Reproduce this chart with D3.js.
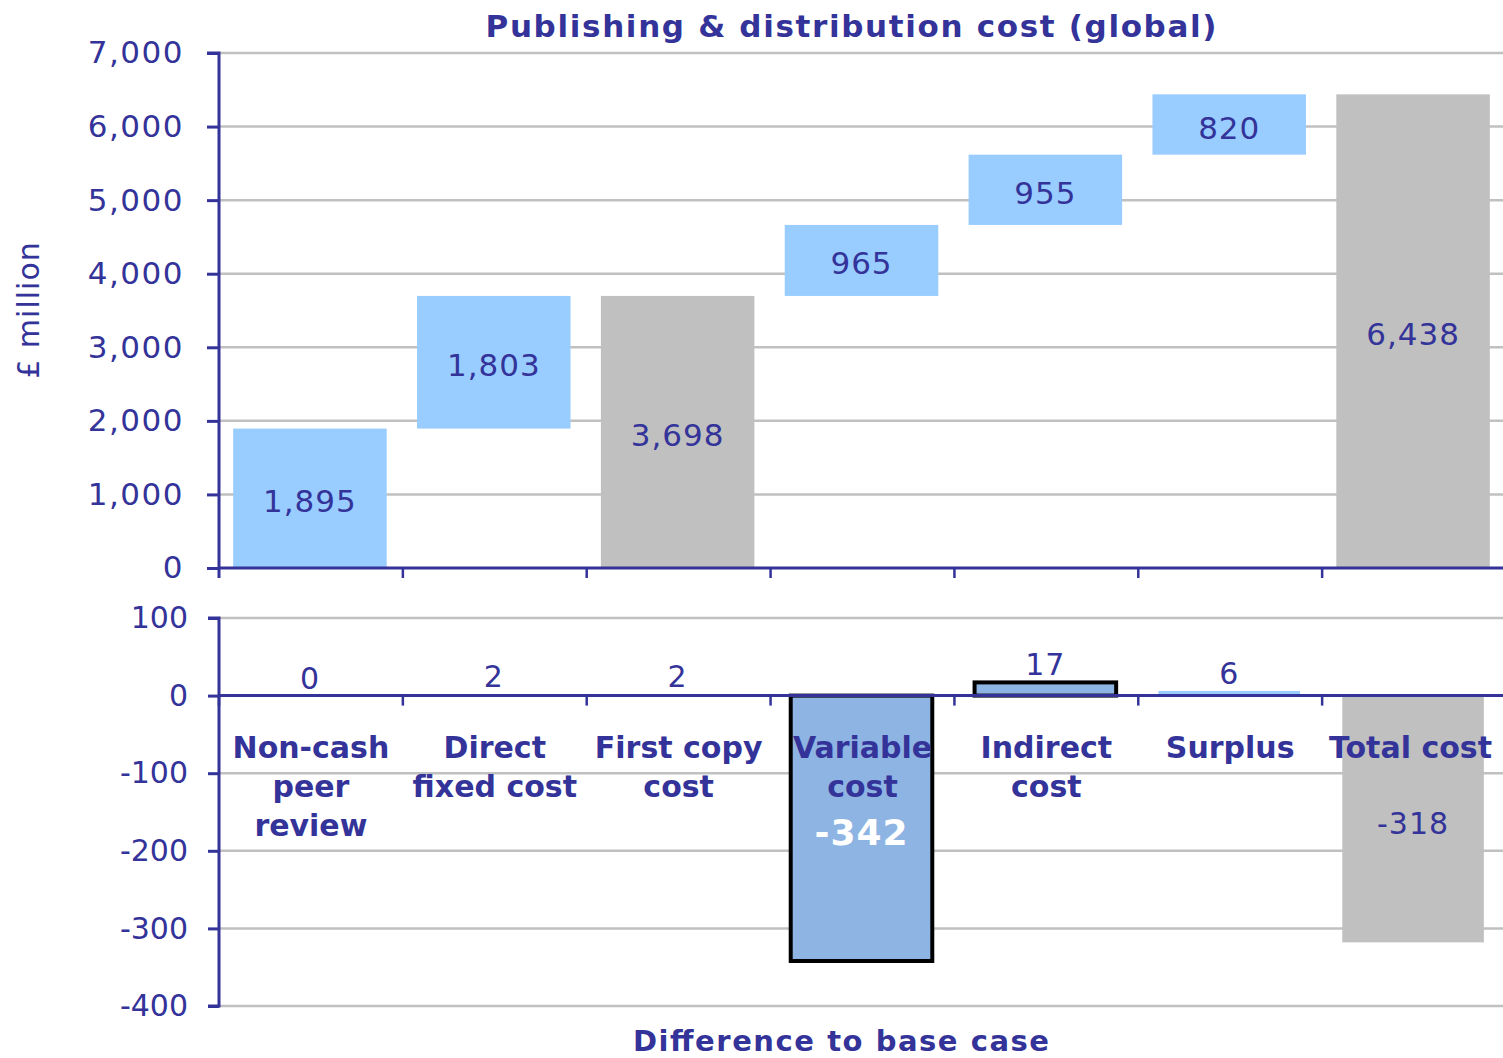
<!DOCTYPE html>
<html>
<head>
<meta charset="utf-8">
<script src="https://cdn.jsdelivr.net/npm/d3@7"></script>
<style>
  html, body { margin: 0; padding: 0; background: #fff; }
  svg { display: block; font-family: "DejaVu Sans", Verdana, sans-serif; }
</style>
</head>
<body>
<div id="chart"></div>
<script>
// chart data
const categories = ['Non-cash peer review', 'Direct fixed cost', 'First copy cost', 'Variable cost', 'Indirect cost', 'Surplus', 'Total cost'];
const categoryLines = [['Non-cash', 'peer', 'review'], ['Direct', 'fixed cost'], ['First copy', 'cost'], ['Variable', 'cost'], ['Indirect', 'cost'], ['Surplus'], ['Total cost']];
const costValues = [1895, 1803, 3698, 965, 955, 820, 6438];
const isTotal = [false, false, true, false, false, false, true];
const diffValues = [0, 2, 2, -342, 17, 6, -318];
const diffHighlight = [false, false, false, true, true, false, false];
const topTicks = [0, 1000, 2000, 3000, 4000, 5000, 6000, 7000];
const bottomTicks = [-400, -300, -200, -100, 0, 100];

const W = 1503, H = 1058;
const NAVY = '#333399', LIGHT = '#99CCFF', GREY = '#C0C0C0', HILITE = '#8EB4E3';

const fmt = d3.formatLocale({ decimal: '.', thousands: ',', grouping: [3], currency: ['', ''], minus: '-' }).format(',');

const svg = d3.select('#chart').append('svg').attr('width', W).attr('height', H);

const x = d3.scaleBand().domain(categories).range([219, 1506]).padding(0);
const bw = x.bandwidth();

const yTop = d3.scaleLinear().domain([0, 7000]).range([568, 53]);
const yBot = d3.scaleLinear().domain([-400, 100]).range([1006, 618]);

// waterfall segments
let running = 0;
const segments = categories.map((c, i) => {
  let start, end;
  if (isTotal[i]) { start = 0; end = costValues[i]; running = end; }
  else { start = running; end = running + costValues[i]; running = end; }
  return { c, start, end, value: costValues[i], total: isTotal[i] };
});

// title
svg.append('text')
  .attr('x', 851).attr('y', 37)
  .attr('text-anchor', 'middle')
  .attr('textLength', 731).attr('lengthAdjust', 'spacing')
  .attr('font-size', 31).attr('font-weight', 'bold').attr('fill', NAVY)
  .text('Publishing  &  distribution  cost  (global)');

// ---- top panel ----
const topG = svg.append('g');

topG.selectAll('line.grid')
  .data(topTicks.filter(t => t !== 0))
  .join('line')
  .attr('class', 'grid')
  .attr('x1', 219).attr('x2', W)
  .attr('y1', d => yTop(d)).attr('y2', d => yTop(d))
  .attr('stroke', GREY).attr('stroke-width', 2.5);

const topBarW = bw * 0.835;
topG.selectAll('rect.bar')
  .data(segments)
  .join('rect')
  .attr('class', 'bar')
  .attr('x', d => x(d.c) + (bw - topBarW) / 2 - 1)
  .attr('width', topBarW)
  .attr('y', d => yTop(d.end))
  .attr('height', d => yTop(d.start) - yTop(d.end))
  .attr('fill', d => d.total ? GREY : LIGHT);

topG.selectAll('text.val')
  .data(segments)
  .join('text')
  .attr('class', 'val')
  .attr('x', d => x(d.c) + bw / 2 - 1)
  .attr('y', d => (yTop(d.start) + yTop(d.end)) / 2 + 14)
  .attr('text-anchor', 'middle')
  .attr('font-size', 31).attr('letter-spacing', 1).attr('fill', NAVY)
  .text(d => fmt(d.value));

const topAxis = d3.axisLeft(yTop).tickValues(topTicks).tickSize(12).tickPadding(23).tickFormat(fmt);
topG.append('g')
  .attr('transform', 'translate(219,0)')
  .call(topAxis)
  .call(g => g.select('.domain').attr('stroke', NAVY).attr('stroke-width', 3).attr('d', 'M-12,53H0V578'))
  .call(g => g.selectAll('.tick line').attr('stroke', NAVY).attr('stroke-width', 3))
  .call(g => g.selectAll('.tick text').attr('fill', NAVY).attr('font-size', 31).attr('letter-spacing', 1.5)
    .attr('font-family', '"DejaVu Sans", Verdana, sans-serif'));

// zero line + category ticks
topG.append('line')
  .attr('x1', 219).attr('x2', W).attr('y1', yTop(0)).attr('y2', yTop(0))
  .attr('stroke', NAVY).attr('stroke-width', 3);
topG.selectAll('line.ctick')
  .data(categories.slice(1))
  .join('line')
  .attr('class', 'ctick')
  .attr('x1', d => x(d)).attr('x2', d => x(d))
  .attr('y1', yTop(0)).attr('y2', yTop(0) + 10)
  .attr('stroke', NAVY).attr('stroke-width', 2.5);

// y label
svg.append('text')
  .attr('transform', `translate(39,${310}) rotate(-90)`)
  .attr('text-anchor', 'middle')
  .attr('font-size', 30).attr('letter-spacing', 1).attr('fill', NAVY)
  .text('£ million');

// ---- bottom panel ----
const botG = svg.append('g');

botG.selectAll('line.grid')
  .data(bottomTicks.filter(t => t !== 0))
  .join('line')
  .attr('class', 'grid')
  .attr('x1', 219).attr('x2', W)
  .attr('y1', d => yBot(d)).attr('y2', d => yBot(d))
  .attr('stroke', GREY).attr('stroke-width', 2.5);

const diffData = categories.map((c, i) => ({ c, v: diffValues[i], hi: diffHighlight[i], total: isTotal[i] }));
const botBarW = bw * 0.77;

botG.selectAll('rect.bar')
  .data(diffData)
  .join('rect')
  .attr('class', 'bar')
  .attr('x', d => x(d.c) + (bw - botBarW) / 2 - 1)
  .attr('width', botBarW)
  .attr('y', d => yBot(Math.max(0, d.v)))
  .attr('height', d => Math.abs(yBot(d.v) - yBot(0)))
  .attr('fill', d => d.hi ? HILITE : (d.total ? GREY : LIGHT))
  .attr('stroke', d => d.hi ? '#000' : 'none')
  .attr('stroke-width', 4);

const botAxis = d3.axisLeft(yBot).tickValues(bottomTicks).tickSize(11).tickPadding(20).tickFormat(fmt);
botG.append('g')
  .attr('transform', 'translate(219,0)')
  .call(botAxis)
  .call(g => g.select('.domain').attr('stroke', NAVY).attr('stroke-width', 3).attr('d', 'M-11,618H0V1006H-11'))
  .call(g => g.selectAll('.tick line').attr('stroke', NAVY).attr('stroke-width', 3))
  .call(g => g.selectAll('.tick text').attr('fill', NAVY).attr('font-size', 30)
    .attr('font-family', '"DejaVu Sans", Verdana, sans-serif'));

botG.append('line')
  .attr('x1', 219).attr('x2', W).attr('y1', yBot(0)).attr('y2', yBot(0))
  .attr('stroke', NAVY).attr('stroke-width', 3);
botG.selectAll('line.ctick')
  .data(categories)
  .join('line')
  .attr('class', 'ctick')
  .attr('x1', d => x(d)).attr('x2', d => x(d))
  .attr('y1', yBot(0)).attr('y2', yBot(0) + 10)
  .attr('stroke', NAVY).attr('stroke-width', 2.5);

// category labels (kept inside the plot's right edge, like the original)
const catG = botG.selectAll('text.cat')
  .data(categories)
  .join('text')
  .attr('class', 'cat')
  .attr('text-anchor', 'middle')
  .attr('font-size', 30).attr('font-weight', 'bold').attr('fill', NAVY);
catG.each(function (d, i) {
  d3.select(this).selectAll('tspan')
    .data(categoryLines[i])
    .join('tspan')
    .attr('x', x(d) + bw / 2)
    .attr('y', (t, j) => 758 + j * 39)
    .text(t => t);
  const box = this.getBBox();
  const over = box.x + box.width - 1492;
  if (over > 0) d3.select(this).selectAll('tspan').attr('x', x(d) + bw / 2 - over);
});

// difference value labels
botG.selectAll('text.val')
  .data(diffData)
  .join('text')
  .attr('class', 'val')
  .attr('x', d => x(d.c) + bw / 2 - 1)
  .attr('y', d => d.v < 0 ? (yBot(0) + yBot(d.v)) / 2 + (d.hi ? 17 : 15) : yBot(d.v) - 7)
  .attr('text-anchor', 'middle')
  .attr('font-size', d => d.hi && d.v < 0 ? 36 : 30)
  .attr('letter-spacing', 1)
  .attr('font-weight', d => d.hi && d.v < 0 ? 'bold' : 'normal')
  .attr('fill', d => d.hi && d.v < 0 ? '#fff' : NAVY)
  .text(d => fmt(d.v));

// x title
svg.append('text')
  .attr('x', 841).attr('y', 1051)
  .attr('text-anchor', 'middle')
  .attr('textLength', 416).attr('lengthAdjust', 'spacing')
  .attr('font-size', 29).attr('font-weight', 'bold').attr('fill', NAVY)
  .text('Difference to base case');
</script>
</body>
</html>
